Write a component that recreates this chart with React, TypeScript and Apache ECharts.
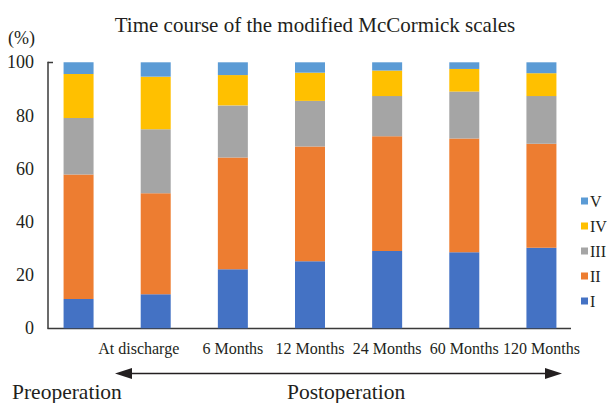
import React, { useEffect, useRef } from "react";
import * as echarts from "echarts";

const categories = ["", "At discharge", "6 Months", "12 Months", "24 Months", "60 Months", "120 Months"];
const gradeI = [11.0, 12.8, 22.2, 25.2, 29.1, 28.6, 30.3];
const gradeII = [46.8, 38.0, 42.0, 43.1, 43.1, 42.8, 39.1];
const gradeIII = [21.3, 24.0, 19.6, 17.2, 15.1, 17.6, 17.9];
const gradeIV = [16.5, 19.8, 11.4, 10.6, 9.6, 8.5, 8.6];
const gradeV = [4.4, 5.4, 4.8, 3.9, 3.1, 2.5, 4.1];
const yTicks = [0, 20, 40, 60, 80, 100];

const FONT = "'Liberation Serif', 'DejaVu Serif', serif";

export default function App() {
  const ref = useRef<HTMLDivElement>(null);
  useEffect(() => {
    if (!ref.current) return;
    const chart = echarts.init(ref.current, null, { renderer: "svg" });
    const seriesDefs = [
      { name: "I", data: gradeI, color: "#4472C4" },
      { name: "II", data: gradeII, color: "#ED7D31" },
      { name: "III", data: gradeIII, color: "#A5A5A5" },
      { name: "IV", data: gradeIV, color: "#FFC000" },
      { name: "V", data: gradeV, color: "#5B9BD5" },
    ];
    chart.setOption({
      animation: false,
      title: {
        text: "Time course of the modified McCormick scales",
        left: 310,
        textAlign: "center",
        top: 9,
        textStyle: { fontFamily: FONT, fontSize: 21, fontWeight: "normal", color: "#231f20" },
      },
      legend: {
        orient: "vertical",
        left: 576,
        top: 188,
        itemWidth: 7,
        itemHeight: 7,
        itemGap: 9,
        icon: "rect",
        data: ["V", "IV", "III", "II", "I"],
        textStyle: { fontFamily: FONT, fontSize: 16, color: "#231f20", padding: [0, 0, 0, -3] },
      },
      grid: { left: 40, right: 27, top: 62.3, bottom: 74.7, containLabel: false },
      xAxis: {
        type: "category",
        data: categories.map((c, i) =>
          i === 1 ? { value: c, textStyle: { padding: [0, 34, 0, 0] } } : c
        ),
        axisLine: { show: false },
        axisTick: { show: false },
        axisLabel: { interval: 0, margin: 12, fontFamily: FONT, fontSize: 16, color: "#231f20" },
      },
      yAxis: {
        type: "value",
        min: yTicks[0],
        max: yTicks[yTicks.length - 1],
        interval: 20,
        offset: -8,
        splitLine: { show: false },
        axisTick: { show: false },
        axisLine: { show: true, lineStyle: { color: "#3a3a3a", width: 1.5 } },
        axisLabel: { margin: 14, fontFamily: FONT, fontSize: 18, color: "#231f20" },
      },
      series: seriesDefs.map((s) => ({
        name: s.name,
        type: "bar",
        stack: "total",
        barWidth: 30,
        data: s.data,
        itemStyle: { color: s.color },
      })),
      graphic: [
        {
          type: "text",
          left: 8,
          top: 29,
          style: { text: "(%)", font: `18px ${FONT}`, fill: "#231f20" },
        },
        {
          type: "line",
          shape: { x1: 48, y1: 62.5, x2: 53, y2: 62.5 },
          style: { stroke: "#3a3a3a", lineWidth: 1.5 },
        },
        {
          type: "line",
          shape: { x1: 47.5, y1: 328.5, x2: 571, y2: 328.5 },
          style: { stroke: "#3a3a3a", lineWidth: 1.5 },
        },
        {
          type: "line",
          shape: { x1: 128, y1: 373.5, x2: 549, y2: 373.5 },
          style: { stroke: "#231f20", lineWidth: 1.5 },
        },
        {
          type: "polygon",
          shape: { points: [[115, 373.5], [132, 368], [132, 379]] },
          style: { fill: "#231f20" },
        },
        {
          type: "polygon",
          shape: { points: [[562, 373.5], [545, 368], [545, 379]] },
          style: { fill: "#231f20" },
        },
        {
          type: "text",
          left: 12,
          top: 381,
          style: { text: "Preoperation", font: `21.5px ${FONT}`, fill: "#231f20" },
        },
        {
          type: "text",
          left: 287,
          top: 381,
          style: { text: "Postoperation", font: `21.5px ${FONT}`, fill: "#231f20" },
        },
      ],
    });
    return () => chart.dispose();
  }, []);
  return <div ref={ref} style={{ width: 607, height: 403, position: "absolute", left: 0, top: 0 }} />;
}
